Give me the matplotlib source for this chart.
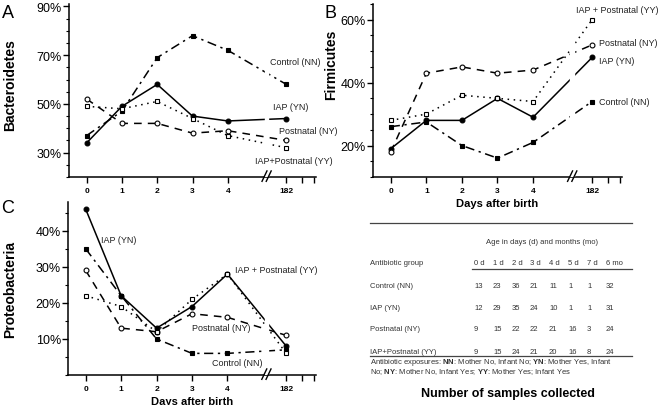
import matplotlib
matplotlib.use('Agg')
import matplotlib.pyplot as plt
from matplotlib.lines import Line2D
from matplotlib.ticker import MultipleLocator, FixedLocator, FuncFormatter

plt.rcParams['font.family'] = 'Liberation Sans'
plt.rcParams['mathtext.fontset'] = 'custom'
plt.rcParams['mathtext.rm'] = 'Liberation Sans'
plt.rcParams['mathtext.bf'] = 'Liberation Sans:bold'

# x axis: days 0-4 then a break and day 182
day_labels = ['0', '1', '2', '3', '4', '182']
day_pos = [0, 1, 2, 3, 4, 5.66]
break_pos = 5.1

# relative abundance (%) per group
bact = {
    'Control (NN)': [37, 47, 69, 78, 72, 58],
    'IAP (YN)': [34, 49, 58, 45, 43, 44],
    'Postnatal (NY)': [52, 42, 42, 38, 39, 35],
    'IAP+Postnatal (YY)': [49, 48, 51, 44, 37, 32],
}
firm = {
    'Control (NN)': [26, 27.5, 20, 16, 21, 34],
    'IAP (YN)': [19, 28, 28, 35, 29, 48],
    'Postnatal (NY)': [18, 43, 45, 43, 44, 52],
    'IAP+Postnatal (YY)': [28, 30, 36, 35, 34, 60],
}
prot = {
    'Control (NN)': [35, 22, 10, 6, 6, 7],
    'IAP (YN)': [46, 22, 13, 19, 28, 8],
    'Postnatal (NY)': [29, 13, 12, 17, 16, 11],
    'IAP+Postnatal (YY)': [22, 19, 12, 21, 28, 6],
}

styles = {
    'Control (NN)': dict(ls=(0, (6, 3, 1.5, 3)), marker='s', mfc='black', ms=3.5),
    'IAP (YN)': dict(ls='-', marker='o', mfc='black', ms=3.5),
    'Postnatal (NY)': dict(ls=(0, (5, 4)), marker='o', mfc='white', ms=3.5),
    'IAP+Postnatal (YY)': dict(ls=(0, (1, 3)), marker='s', mfc='white', ms=3.5),
}

# sample table
groups = ['Control (NN)', 'IAP (YN)', 'Postnatal (NY)', 'IAP+Postnatal (YY)']
ages = ['0 d', '1 d', '2 d', '3 d', '4 d', '5 d', '7 d', '6 mo']
counts = [
    [13, 23, 36, 21, 11, 1, 1, 32],
    [12, 29, 35, 24, 10, 1, 1, 31],
    [9, 15, 22, 22, 21, 16, 3, 24],
    [9, 15, 24, 21, 20, 16, 8, 24],
]
foot1 = r'Antibiotic exposures: $\mathbf{NN}$: Mother No, Infant No; $\mathbf{YN}$: Mother Yes, Infant'
foot2 = r'No; $\mathbf{NY}$: Mother No, Infant Yes; $\mathbf{YY}$: Mother Yes; Infant Yes'

W, H = 658, 406
fig = plt.figure(figsize=(W / 100, H / 100), dpi=100)


def fx(px):
    return px / W


def fy(py):
    return 1 - py / H


def make_ax(left, top, right, bottom):
    return fig.add_axes([fx(left), fy(bottom), fx(right - left), (bottom - top) / H])


def style_ax(ax, ylim, major, xlabel=None):
    ax.set_xlim(-0.5, 6.5)
    ax.set_ylim(*ylim)
    for s in ['top', 'right']:
        ax.spines[s].set_visible(False)
    for s in ['left', 'bottom']:
        ax.spines[s].set_linewidth(1.1)
    ax.yaxis.set_major_locator(FixedLocator(major))
    ax.yaxis.set_minor_locator(MultipleLocator(5))
    ax.yaxis.set_major_formatter(FuncFormatter(lambda v, p: '%d%%' % v))
    ax.set_xticks(day_pos)
    ax.set_xticklabels(day_labels, fontsize=6, fontweight='bold')
    ax.xaxis.set_minor_locator(FixedLocator([6.1, 6.45]))
    ax.tick_params(axis='y', which='major', labelsize=9, length=4, width=1, pad=1)
    ax.tick_params(axis='y', which='minor', length=2.5, width=0.8)
    ax.tick_params(axis='x', which='major', length=4, width=1, pad=3)
    ax.tick_params(axis='x', which='minor', length=4, width=1)
    if xlabel:
        ax.set_xlabel(xlabel, fontsize=8, fontweight='bold', labelpad=3)
    # axis break
    ax.axvspan(break_pos - 0.05, break_pos + 0.05, color='white', zorder=4)
    for d in [-0.06, 0.06]:
        ax.plot([break_pos + d - 0.07, break_pos + d + 0.07],
                [-0.025, 0.035], color='black', lw=1,
                transform=ax.get_xaxis_transform(), clip_on=False, zorder=5)


def draw_lines(ax, data):
    for g in groups:
        st = styles[g]
        ax.plot(day_pos, data[g], color='black', lw=1.1, ls=st['ls'],
                marker=st['marker'], mfc=st['mfc'], mec='black', ms=st['ms'],
                mew=0.8, zorder=3)


def label(ax, x, y, s):
    ax.text(x, y, s, fontsize=6.5, va='center', color='#222222', zorder=6)


def ylab(px, py, s):
    fig.text(fx(px), fy(py), s, fontsize=10, fontweight='bold', rotation=90,
             ha='center', va='center')


# Panel A
axA = make_ax(69, 5, 316, 178)
draw_lines(axA, bact)
style_ax(axA, (20, 91), [30, 50, 70, 90])
ylab(10, 85, 'Bacteroidetes')
label(axA, 5.21, 67.3, 'Control (NN)')
label(axA, 5.27, 48.9, 'IAP (YN)')
label(axA, 5.46, 39.1, 'Postnatal (NY)')
label(axA, 4.76, 26.9, 'IAP+Postnatal (YY)')

# Panel B
axB = make_ax(373, 5, 622, 178)
draw_lines(axB, firm)
style_ax(axB, (10, 65), [20, 40, 60], 'Days after birth')
ylab(331, 65, 'Firmicutes')
label(axB, 5.22, 63.2, 'IAP + Postnatal (YY)')
label(axB, 5.86, 52.7, 'Postnatal (NY)')
label(axB, 5.86, 47.0, 'IAP (YN)')
label(axB, 5.86, 34.1, 'Control (NN)')

# Panel C
axC = make_ax(68, 203, 316, 376)
draw_lines(axC, prot)
style_ax(axC, (0, 48), [10, 20, 30, 40], 'Days after birth')
ylab(10, 290, 'Proteobacteria')
label(axC, 0.42, 37.5, 'IAP (YN)')
label(axC, 4.2, 29.2, 'IAP + Postnatal (YY)')
label(axC, 3.0, 13.1, 'Postnatal (NY)')
label(axC, 3.56, 3.6, 'Control (NN)')

# panel letters
fig.text(fx(8), fy(14), 'A', fontsize=13, ha='center', va='center')
fig.text(fx(330), fy(14), 'B', fontsize=13, ha='center', va='center')
fig.text(fx(8), fy(209), 'C', fontsize=13, ha='center', va='center')

# table of samples
tfs = 5.5
tc = '#333333'


def hline(x0, x1, y, lw=0.9):
    fig.add_artist(Line2D([fx(x0), fx(x1)], [fy(y), fy(y)], color='#444444', lw=lw))


hline(370, 632, 224)
fig.text(fx(542), fy(243), 'Age in days (d) and months (mo)', fontsize=tfs,
         ha='center', va='center', color=tc)
fig.text(fx(370), fy(264), 'Antibiotic group', fontsize=tfs, va='center', color=tc)
col_x = [474, 493, 512, 530, 549, 568, 587, 606]
for a, cx in zip(ages, col_x):
    fig.text(fx(cx), fy(264), a, fontsize=tfs, va='center', color=tc)
hline(472, 632, 270)
row_y = [287, 309, 330, 352]
for g, ry, row in zip(groups, row_y, counts):
    fig.text(fx(370), fy(ry), g, fontsize=tfs, va='center', color=tc)
    for v, cx in zip(row, col_x):
        fig.text(fx(cx), fy(ry), str(v), fontsize=tfs, va='center', color=tc)
hline(370, 632, 357)

fig.text(fx(370), fy(363), foot1, fontsize=tfs, va='center', color=tc)
fig.text(fx(370), fy(372), foot2, fontsize=tfs, va='center', color=tc)

fig.text(fx(508), fy(394), 'Number of samples collected', fontsize=9,
         fontweight='bold', ha='center', va='center')

fig.savefig('out.png', dpi=100)
